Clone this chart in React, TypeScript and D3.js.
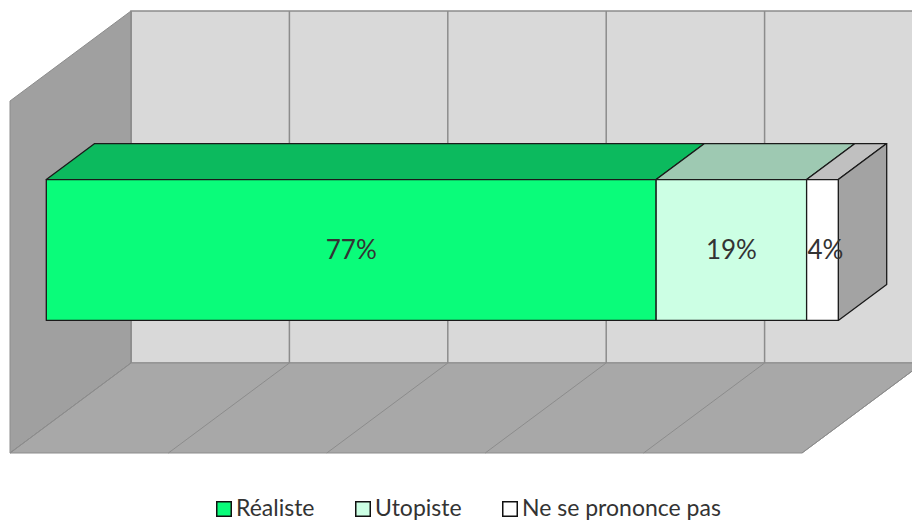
import React from "react";
import * as d3 from "d3";

const categories = ["Réaliste", "Utopiste", "Ne se prononce pas"];
const values = [0.77, 0.19, 0.04];
const labels = ["77%", "19%", "4%"];
const frontColors = ["#0afc7a", "#ccffe4", "#ffffff"];
const topColors = ["#0cba5e", "#9ec9b2", "#c0c0c0"];
const gridTicks = [0, 0.2, 0.4, 0.6, 0.8, 1.0];

const W = 912;
const H = 522;
const FRONT_LEFT = 10;
const PLOT_W = 792;
const FRONT_TOP = 101;
const FRONT_BOTTOM = 453;
const DX = 121;
const DY = 90;

export default function App() {
  const x = d3.scaleLinear().domain([0, 1]).range([FRONT_LEFT, FRONT_LEFT + PLOT_W]);
  const y = d3.scaleLinear().domain([0, 1]).range([FRONT_BOTTOM, FRONT_TOP]);
  const P = (xv: number, yv: number, z: number): [number, number] => [x(xv) + z * DX, y(yv) - z * DY];
  const poly = (pts: [number, number][]) => (d3.line()(pts) as string) + "Z";

  const backWall = poly([P(0, 0, 1), P(1, 0, 1), P(1, 1, 1), P(0, 1, 1)]);
  const sideWall = poly([P(0, 0, 0), P(0, 0, 1), P(0, 1, 1), P(0, 1, 0)]);
  const floor = poly([P(0, 0, 0), P(1, 0, 0), P(1, 0, 1), P(0, 0, 1)]);

  const z0 = 0.3, z1 = 0.7, y0 = 0.3, y1 = 0.7;
  const starts = values.map((_, i) => d3.sum(values.slice(0, i)));

  const legendX = [216, 355, 502];

  return (
    <svg width={W} height={H} style={{ position: "absolute", left: 0, top: 0, background: "#fff" }}>
      <path d={backWall} fill="#d9d9d9" stroke="#8c8c8c" strokeWidth={1.5} />
      <path d={sideWall} fill="#a0a0a0" stroke="#8c8c8c" strokeWidth={1} />
      <path d={floor} fill="#a8a8a8" stroke="#8c8c8c" strokeWidth={1} />
      {gridTicks.map((t, i) => (
        <g key={i}>
          <path d={d3.line()([P(t, 0, 1), P(t, 1, 1)]) as string} stroke="#8c8c8c" strokeWidth={1.5} fill="none" />
          <path d={d3.line()([P(t, 0, 0), P(t, 0, 1)]) as string} stroke="#8c8c8c" strokeWidth={1} fill="none" />
        </g>
      ))}
      {values.map((v, i) => (
        <path
          key={"top" + i}
          d={poly([P(starts[i], y1, z0), P(starts[i] + v, y1, z0), P(starts[i] + v, y1, z1), P(starts[i], y1, z1)])}
          fill={topColors[i]}
          stroke="#1a1a1a"
          strokeWidth={1.3}
          strokeLinejoin="round"
        />
      ))}
      <path
        d={poly([P(1, y0, z0), P(1, y0, z1), P(1, y1, z1), P(1, y1, z0)])}
        fill="#a3a3a3"
        stroke="#1a1a1a"
        strokeWidth={1.3}
        strokeLinejoin="round"
      />
      {values.map((v, i) => (
        <path
          key={"front" + i}
          d={poly([P(starts[i], y0, z0), P(starts[i] + v, y0, z0), P(starts[i] + v, y1, z0), P(starts[i], y1, z0)])}
          fill={frontColors[i]}
          stroke="#1a1a1a"
          strokeWidth={1.3}
          strokeLinejoin="round"
        />
      ))}
      {values.map((v, i) => {
        const [cx, cy] = P(starts[i] + v / 2, (y0 + y1) / 2, z0);
        return (
          <text
            key={"lbl" + i}
            x={cx + (i === 2 ? 3 : 0)}
            y={cy}
            dy="0.35em"
            textAnchor="middle"
            fontFamily="Lato, 'Open Sans', sans-serif"
            fontSize={26}
            fill="#333333"
          >
            {labels[i]}
          </text>
        );
      })}
      {categories.map((c, i) => (
        <g key={"leg" + i} transform={`translate(${legendX[i]},501)`}>
          <rect x={0.75} y={0.75} width={14.5} height={14.5} fill={frontColors[i]} stroke="#111" strokeWidth={1.5} />
          <text x={20} y={15} fontFamily="Lato, 'Open Sans', sans-serif" fontSize={23} fill="#333">
            {c}
          </text>
        </g>
      ))}
    </svg>
  );
}
